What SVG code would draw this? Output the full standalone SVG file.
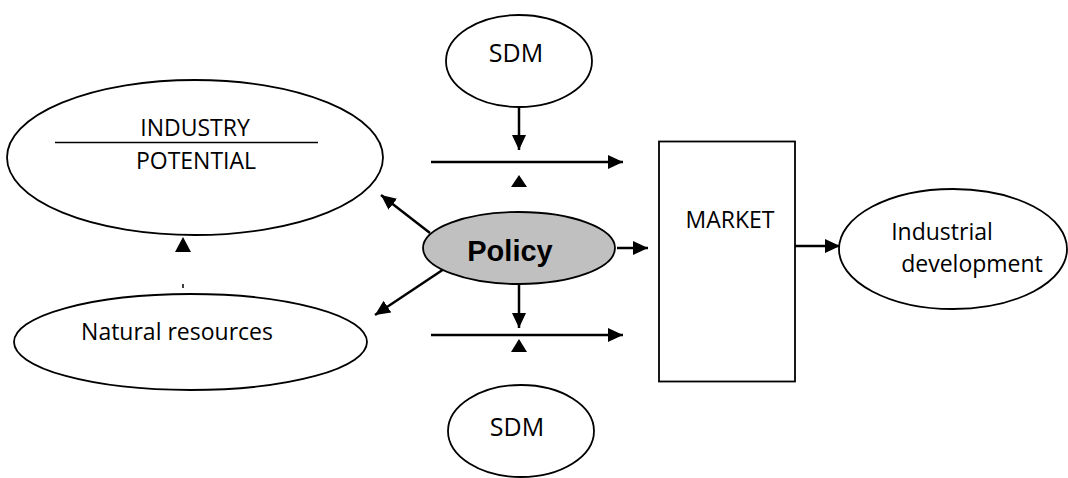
<svg xmlns="http://www.w3.org/2000/svg" width="1068" height="478" viewBox="0 0 1068 478">
  <style>
    .shape { fill: #ffffff; stroke: #000000; stroke-width: 1.8; }
    .label { font-family: "Open Sans", "Liberation Sans", sans-serif; font-size: 23px; fill: #000000; text-anchor: middle; }
    .big { font-size: 25px; }
    .bold { font-family: "Liberation Sans", Arial, sans-serif; font-size: 29px; font-weight: bold; fill: #000000; text-anchor: middle; }
    .link { fill: none; stroke: #000000; stroke-width: 2.5; marker-end: url(#head); }
    .plain { fill: none; stroke: #000000; stroke-width: 1.5; }
    .tri { fill: #000000; stroke: none; }
  </style>
  <defs>
    <marker id="head" markerUnits="userSpaceOnUse" markerWidth="16" markerHeight="16" refX="15" refY="8" orient="auto">
      <path d="M0,1 L15,8 L0,15 z" fill="#000000"/>
    </marker>
  </defs>
  <rect width="1068" height="478" fill="#ffffff"/>

  <!-- connectors -->
  <g id="connectors">
    <!-- SDM (top) down onto the upper flow -->
    <line class="link" x1="519" y1="107" x2="519" y2="150"/>
    <!-- upper flow to market -->
    <line class="link" x1="431" y1="162" x2="623" y2="162"/>
    <polygon class="tri" points="519,175 527,187 511,187"/>
    <!-- policy outputs -->
    <line class="link" x1="430" y1="233" x2="381" y2="195"/>
    <line class="link" x1="447" y1="267" x2="375" y2="315"/>
    <line class="link" x1="617" y1="248" x2="648" y2="248"/>
    <line class="link" x1="519" y1="284" x2="519" y2="328"/>
    <!-- lower flow to market -->
    <line class="link" x1="431" y1="335" x2="623" y2="335"/>
    <polygon class="tri" points="519,339 527,352 511,352"/>
    <!-- natural resources up to industry potential -->
    <polygon class="tri" points="183,237 191,252 175,252"/>
    <line class="plain" x1="183" y1="284" x2="183" y2="288"/>
    <!-- market to industrial development -->
    <line class="link" x1="795" y1="246" x2="840" y2="246"/>
  </g>

  <g id="sdm-top">
    <ellipse class="shape" cx="519" cy="61" rx="73" ry="46"/>
    <text class="label big" x="516" y="62">SDM</text>
  </g>

  <g id="industry-potential">
    <ellipse class="shape" cx="195" cy="157.5" rx="188" ry="77.5"/>
    <text class="label" x="195" y="136">INDUSTRY</text>
    <line class="plain" x1="55" y1="142.5" x2="318" y2="142.5"/>
    <text class="label" x="196" y="169">POTENTIAL</text>
  </g>

  <g id="policy">
    <ellipse cx="519" cy="248" rx="96" ry="36" fill="#c0c0c0" stroke="#000000" stroke-width="1.8"/>
    <text class="bold" x="510" y="261">Policy</text>
  </g>

  <g id="natural-resources">
    <ellipse class="shape" cx="190.5" cy="342" rx="176.5" ry="48"/>
    <text class="label" x="177" y="340">Natural resources</text>
  </g>

  <g id="market">
    <rect class="shape" x="659" y="141.5" width="136" height="240" stroke-width="2"/>
    <text class="label" x="730" y="228">MARKET</text>
  </g>

  <g id="industrial-development">
    <ellipse class="shape" cx="953" cy="249" rx="114" ry="60"/>
    <text class="label" x="942" y="240">Industrial</text>
    <text class="label" x="972" y="272">development</text>
  </g>

  <g id="sdm-bottom">
    <ellipse class="shape" cx="521" cy="431" rx="73" ry="46"/>
    <text class="label big" x="517" y="436">SDM</text>
  </g>
</svg>
